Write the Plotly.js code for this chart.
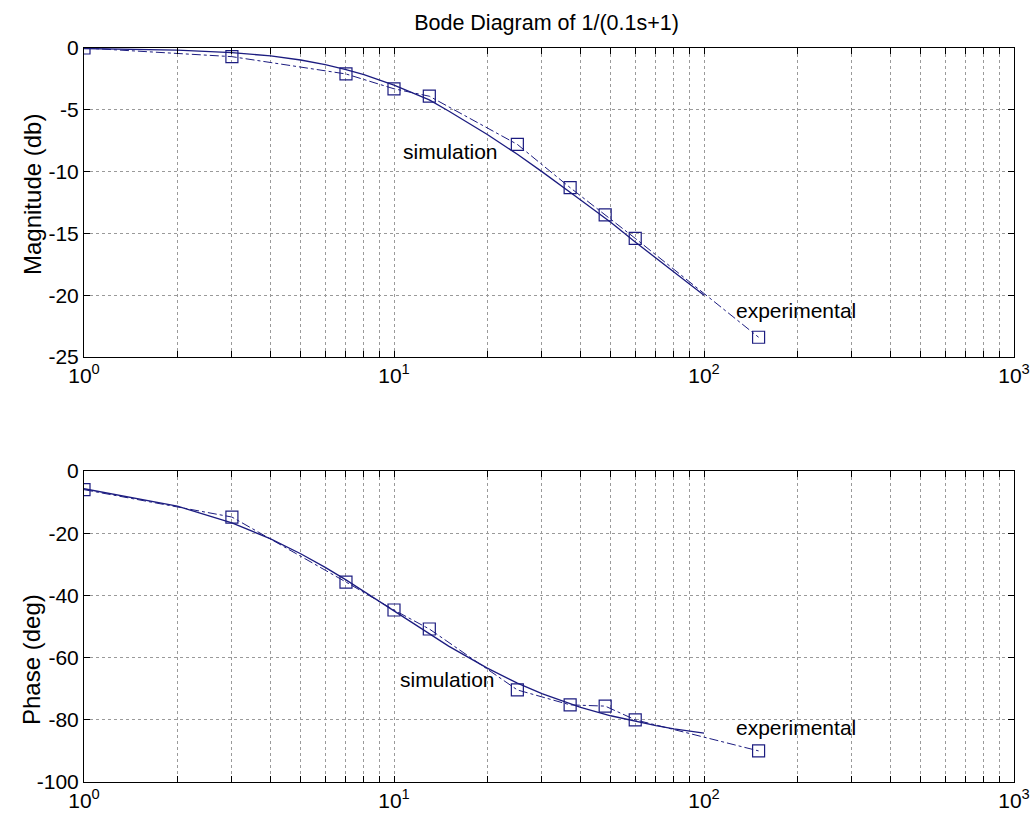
<!DOCTYPE html>
<html><head><meta charset="utf-8">
<script src="https://cdn.plot.ly/plotly-3.0.1.min.js"></script>
<style>html,body{margin:0;padding:0;background:#fff}#chart{width:1031px;height:816px}</style>
</head><body><div id="chart"></div>
<script>
// Simulation (solid line)
const simFreq = [1,2,3,4,5,6,7,8,10,13,15,20,25,30,40,50,60,70,80,100];
const simMag = [-0.04,-0.17,-0.37,-0.64,-0.97,-1.34,-1.74,-2.15,-3.0,-4.2,-5.1,-7.0,-8.6,-10.0,-12.3,-14.1,-15.7,-17.0,-18.1,-20.0];
const simPhase = [-5.7,-11.3,-16.7,-21.8,-26.6,-31.0,-35.0,-38.7,-45.0,-52.4,-56.3,-63.4,-68.2,-71.6,-76.0,-78.7,-80.5,-81.9,-82.9,-84.3];
// Experimental (dash-dot with squares)
const expFreq = [1,3,7,10,13,25,37,48,60,150];
const expMag = [0,-0.7,-2.1,-3.3,-3.9,-7.8,-11.3,-13.5,-15.4,-23.4];
const expPhase = [-6,-14.8,-35.7,-44.7,-50.8,-70.4,-75.2,-75.6,-80,-90];
// Ticks
const xTickVals = [1,10,100,1000];
const xTickText = ['10<sup>0</sup>','10<sup>1</sup>','10<sup>2</sup>','10<sup>3</sup>'];
const xMinorVals = [2,3,4,5,6,7,8,9,20,30,40,50,60,70,80,90,200,300,400,500,600,700,800,900];
const magTicks = [0,-5,-10,-15,-20,-25];
const magTickText = ['0','-5','-10','-15','-20','-25'];
const phaseTicks = [0,-20,-40,-60,-80,-100];
const phaseTickText = ['0','-20','-40','-60','-80','-100'];

const navy = '#1c1c80';
const fam = 'Liberation Sans, Arial, sans-serif';
const grid = '#9a9a9a';
const traces = [
  {x:simFreq, y:simMag, xaxis:'x', yaxis:'y', mode:'lines', line:{color:navy,width:1.3}},
  {x:expFreq, y:expMag, xaxis:'x', yaxis:'y', mode:'lines+markers', line:{color:navy,width:1,dash:'dashdot'}, marker:{symbol:'square-open',size:12,color:navy,line:{width:1.2,color:navy}}},
  {x:simFreq, y:simPhase, xaxis:'x2', yaxis:'y2', mode:'lines', line:{color:navy,width:1.3}},
  {x:expFreq, y:expPhase, xaxis:'x2', yaxis:'y2', mode:'lines+markers', line:{color:navy,width:1,dash:'dashdot'}, marker:{symbol:'square-open',size:12,color:navy,line:{width:1.2,color:navy}}}
];
function xax(anchor){return {type:'log', range:[0,3], tickmode:'array', tickvals:xTickVals, ticktext:xTickText,
  ticks:'inside', ticklen:6, tickcolor:'#000', showline:true, linecolor:'#000', linewidth:1, mirror:'ticks',
  showgrid:true, gridcolor:grid, griddash:'dot', gridwidth:1, zeroline:false, anchor:anchor,
  minor:{tickmode:'array', tickvals:xMinorVals, ticks:'inside', ticklen:6, tickcolor:'#000', showgrid:true, gridcolor:grid, griddash:'dot', gridwidth:1},
  tickfont:{size:21, family:fam, color:'#000'}};}
function yax(anchor, domain, range, vals, text){return {range:range, domain:domain, tickmode:'array', tickvals:vals, ticktext:text,
  ticks:'inside', ticklen:6, tickcolor:'#000', showline:true, linecolor:'#000', linewidth:1, mirror:'ticks',
  showgrid:true, gridcolor:grid, griddash:'dot', gridwidth:1, zeroline:false, anchor:anchor,
  tickfont:{size:21, family:fam, color:'#000'}};}
const annFont = {size:21, family:fam, color:'#000'};
const layout = {
  width:1031, height:816, showlegend:false,
  paper_bgcolor:'#fff', plot_bgcolor:'#fff',
  margin:{l:84, r:17, t:48, b:34},
  title:{text:'Bode Diagram of 1/(0.1s+1)', x:(546.5-84)/930, xanchor:'center', xref:'paper', y:1-22/816, yanchor:'middle', font:{size:21.5, family:fam, color:'#000'}},
  xaxis: xax('y'),
  yaxis: yax('x', [0.579,1], [-25,0], magTicks, magTickText),
  xaxis2: xax('y2'),
  yaxis2: yax('x2', [0,0.4237], [-100,0], phaseTicks, phaseTickText),
  annotations:[
    {xref:'x', yref:'y', x:Math.log10(15.2), y:-8.4, text:'simulation', showarrow:false, font:annFont},
    {xref:'x', yref:'y', x:Math.log10(198), y:-21.2, text:'experimental', showarrow:false, font:annFont},
    {xref:'x2', yref:'y2', x:Math.log10(14.9), y:-66.9, text:'simulation', showarrow:false, font:annFont},
    {xref:'x2', yref:'y2', x:Math.log10(198), y:-82.6, text:'experimental', showarrow:false, font:annFont},
    {xref:'paper', yref:'paper', x:(32-84)/930, y:(782-195)/734, xanchor:'center', yanchor:'middle', text:'Magnitude (db)', textangle:-90, showarrow:false, font:{size:24, family:fam, color:'#000'}},
    {xref:'paper', yref:'paper', x:(31-84)/930, y:(782-660)/734, xanchor:'center', yanchor:'middle', text:'Phase (deg)', textangle:-90, showarrow:false, font:{size:24, family:fam, color:'#000'}}
  ]
};
Plotly.newPlot('chart', traces, layout, {displayModeBar:false, staticPlot:true});
</script></body></html>
